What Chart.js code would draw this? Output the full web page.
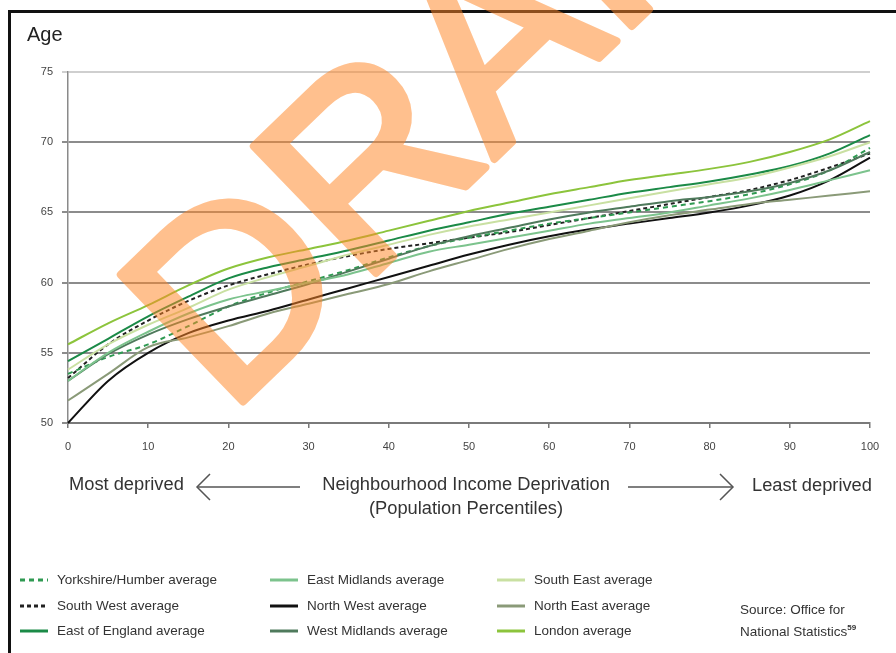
<!DOCTYPE html>
<html>
<head>
<meta charset="utf-8">
<script src="https://cdn.jsdelivr.net/npm/chart.js@4.4.1/dist/chart.umd.min.js"></script>
<style>
  html, body { margin: 0; padding: 0; background: #fff; }
  body { width: 896px; height: 653px; position: relative; overflow: hidden;
         font-family: "Liberation Sans", Arial, sans-serif; color: #333; }
  #chart { position: absolute; left: 0; top: 0; }
  .frame { position: absolute; left: 8px; top: 10px; width: 900px; height: 700px;
           border-left: 3px solid #111; border-top: 3px solid #111; }
  .txt { position: absolute; white-space: nowrap; line-height: 1; }
  #age { left: 27px; top: 24px; font-size: 20px; color: #222; }
  .cap { font-size: 18.3px; color: #333; }
  #legend .item { position: absolute; font-size: 13.5px; color: #333; white-space: nowrap; line-height: 1; }
  #legend svg { position: absolute; left: 0; top: 1px; }
  #legend span { position: absolute; left: 37px; top: 0; }
  #overlay { position: absolute; left: 0; top: 0; pointer-events: none; }
</style>
</head>
<body>
<canvas id="chart" width="896" height="653"></canvas>
<div class="frame"></div>
<div class="txt" id="age">Age</div>
<div class="txt cap" style="left:69px; top:475px;">Most deprived</div>
<div class="txt cap" style="left:466px; top:475px; transform:translateX(-50%);">Neighbourhood Income Deprivation</div>
<div class="txt cap" style="left:466px; top:499px; transform:translateX(-50%);">(Population Percentiles)</div>
<div class="txt cap" style="left:752px; top:476px;">Least deprived</div>
<div id="legend"></div>
<div class="txt" style="left:740px; top:603px; font-size:13.5px;">Source: Office for</div>
<div class="txt" style="left:740px; top:624px; font-size:13.5px;">National Statistics<sup style="font-size:8px; font-weight:bold;">59</sup></div>
<svg id="overlay" width="896" height="653">
  <g stroke="#555" stroke-width="1.5" fill="none">
    <line x1="197" y1="487" x2="300" y2="487"/>
    <polyline points="210,474 197,487 210,500"/>
    <line x1="628" y1="487" x2="733" y2="487"/>
    <polyline points="720,474 733,487 720,500"/>
  </g>
  <text x="0" y="0" transform="translate(228,416) rotate(-44)" font-family="Liberation Sans, Arial, sans-serif"
        font-size="256" fill="rgb(255,135,40)" stroke="rgb(255,135,40)" stroke-width="8"
        stroke-linejoin="round" opacity="0.52">DRAFT</text>
</svg>
<script>
// percentile positions along the x axis
const percentiles = [0, 5, 10, 15, 20, 25, 30, 35, 40, 45, 50, 55, 60, 65, 70, 75, 80, 85, 90, 95, 100];
const xTickValues = [0, 10, 20, 30, 40, 50, 60, 70, 80, 90, 100];
const yTickValues = [50, 55, 60, 65, 70, 75];

// average age by region
const yorkshire     = [53.5, 54.7, 55.6, 56.9, 58.3, 59.3, 60.1, 60.9, 61.8, 62.6, 63.2, 63.7, 64.2, 64.6, 65.0, 65.4, 65.8, 66.3, 67.0, 68.0, 69.6];
const southWest     = [53.2, 55.6, 57.3, 58.7, 59.8, 60.6, 61.3, 61.9, 62.4, 62.8, 63.2, 63.6, 64.1, 64.6, 65.1, 65.6, 66.1, 66.6, 67.3, 68.2, 69.2];
const eastEngland   = [54.4, 56.0, 57.6, 59.0, 60.3, 61.1, 61.7, 62.3, 63.0, 63.7, 64.3, 64.9, 65.4, 65.9, 66.4, 66.8, 67.2, 67.7, 68.3, 69.2, 70.5];
const eastMidlands  = [53.0, 55.0, 56.5, 57.8, 58.8, 59.4, 60.0, 60.6, 61.4, 62.2, 62.7, 63.2, 63.7, 64.2, 64.6, 65.0, 65.5, 66.0, 66.6, 67.3, 68.0];
const northWest     = [50.0, 53.0, 55.0, 56.4, 57.3, 58.0, 58.8, 59.6, 60.4, 61.2, 62.0, 62.7, 63.3, 63.8, 64.2, 64.6, 65.0, 65.5, 66.2, 67.3, 68.9];
const westMidlands  = [53.0, 54.9, 56.3, 57.4, 58.3, 59.1, 59.9, 60.8, 61.7, 62.6, 63.3, 63.9, 64.5, 65.0, 65.4, 65.8, 66.1, 66.5, 67.1, 68.0, 69.3];
const southEast     = [53.8, 55.6, 57.0, 58.2, 59.5, 60.4, 61.2, 62.0, 62.7, 63.4, 64.0, 64.5, 65.0, 65.5, 66.0, 66.5, 67.0, 67.5, 68.2, 69.0, 70.0];
const northEast     = [51.6, 53.5, 55.4, 56.1, 56.9, 57.8, 58.5, 59.2, 59.9, 60.8, 61.6, 62.4, 63.1, 63.7, 64.3, 64.8, 65.2, 65.6, 65.9, 66.2, 66.5];
const london        = [55.6, 57.1, 58.4, 59.8, 61.0, 61.8, 62.4, 63.0, 63.7, 64.4, 65.1, 65.7, 66.3, 66.8, 67.3, 67.7, 68.1, 68.6, 69.3, 70.2, 71.5];

const regionNames = [
  'Yorkshire/Humber average', 'South West average', 'East of England average',
  'East Midlands average', 'North West average', 'West Midlands average',
  'South East average', 'North East average', 'London average'
];
const regionValues = [yorkshire, southWest, eastEngland, eastMidlands, northWest, westMidlands, southEast, northEast, london];

// styles kept apart from the data
const lineColors = ['#2f9a52', '#222222', '#1b8a47', '#7cc38d', '#111111', '#4f7a5c', '#c9e0a2', '#8a9a78', '#8cc43c'];
const lineDash   = [[5, 4], [4, 3], [], [], [], [], [], [], []];
const drawOrder  = [6, 7, 3, 5, 0, 1, 4, 2, 8];

const datasets = drawOrder.map((i) => ({
  label: regionNames[i],
  data: percentiles.map((p, k) => ({ x: p, y: regionValues[i][k] })),
  borderColor: lineColors[i],
  borderWidth: 2,
  borderDash: lineDash[i],
  pointRadius: 0,
  cubicInterpolationMode: 'monotone',
  fill: false,
  clip: false,
}));

new Chart(document.getElementById('chart'), {
  type: 'line',
  data: { datasets },
  options: {
    responsive: false,
    animation: false,
    layout: { padding: { left: 0, right: 26, top: 72, bottom: 200 } },
    plugins: { legend: { display: false }, tooltip: { enabled: false } },
    scales: {
      x: {
        type: 'linear', min: 0, max: 100,
        afterBuildTicks: (s) => { s.ticks = xTickValues.map((v) => ({ value: v })); },
        afterFit: (s) => { s.height = 30; },
        grid: { drawOnChartArea: false, drawTicks: true, tickLength: 5, color: '#777', lineWidth: 1.5 },
        border: { color: '#7a7a7a', width: 2 },
        ticks: { color: '#444', padding: 12, maxRotation: 0, font: { family: 'Liberation Sans', size: 11 } },
      },
      y: {
        min: 50, max: 75,
        afterBuildTicks: (s) => { s.ticks = yTickValues.map((v) => ({ value: v })); },
        afterFit: (s) => { s.width = 68; },
        grid: {
          tickLength: 6, lineWidth: 2,
          color: (c) => (c.tick && c.tick.value === 75 ? '#cfcfcf' : '#8c8c8c'),
        },
        border: { color: '#8a8a8a', width: 1.5 },
        ticks: { color: '#444', padding: 9, font: { family: 'Liberation Sans', size: 11 } },
      },
    },
  },
});

// legend in three columns, filled top to bottom
const legendCols = [20, 270, 497];
const legendRows = [573, 599, 624];
const legend = document.getElementById('legend');
regionNames.forEach((name, i) => {
  const item = document.createElement('div');
  item.className = 'item';
  item.style.left = legendCols[Math.floor(i / 3)] + 'px';
  item.style.top = legendRows[i % 3] + 'px';
  const dash = lineDash[i].length ? `stroke-dasharray="${lineDash[i].join(' ')}"` : '';
  item.innerHTML = `<svg width="30" height="12"><line x1="0" y1="6" x2="28" y2="6" stroke="${lineColors[i]}" stroke-width="3" ${dash}/></svg><span>${name}</span>`;
  legend.appendChild(item);
});
</script>
</body>
</html>
